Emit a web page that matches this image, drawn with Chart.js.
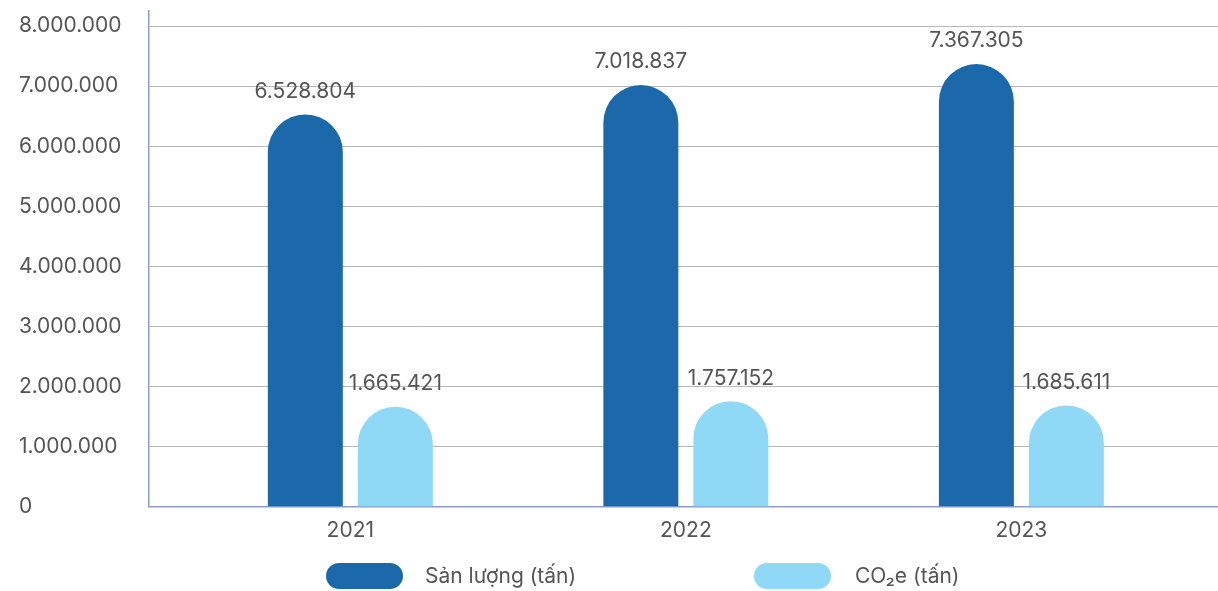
<!DOCTYPE html>
<html>
<head>
<meta charset="utf-8">
<script src="https://cdn.jsdelivr.net/npm/chart.js@4/dist/chart.umd.min.js"></script>
<style>
  body { margin: 0; background: #fff; }
  #wrap { position: relative; width: 1218px; height: 591px; }
  .pill { position: absolute; width: 77px; height: 26px; border-radius: 13px; }
  .lbl { position: absolute; font-family: Inter, sans-serif; font-size: 21px; color: #555; line-height: 26px; white-space: nowrap; }
</style>
</head>
<body>
<div id="wrap">
  <canvas id="chart" width="1218" height="591"></canvas>
  <div class="pill" style="left:326px; top:563px; background:#1b69ab;"></div>
  <div class="lbl" style="left:425px; top:563px;">Sản lượng (tấn)</div>
  <div class="pill" style="left:754px; top:563px; background:#8fd9f7;"></div>
  <div class="lbl" style="left:855px; top:563px;">CO₂e (tấn)</div>
</div>
<script>
let years = [2021, 2022, 2023];
let sanLuong = [6528804, 7018837, 7367305];
let co2e = [1665421, 1757152, 1685611];
let seriesNames = ["Sản lượng (tấn)", "CO₂e (tấn)"];
let yTicks = [0, 1000000, 2000000, 3000000, 4000000, 5000000, 6000000, 7000000, 8000000];

function fmt(n) {
  return String(Math.round(n)).replace(/\B(?=(\d{3})+(?!\d))/g, ".");
}

function toPoints(vals) {
  return years.map((y, i) => ({ x: y, y: vals[i] }));
}

// numbers above each bar
const valueLabels = {
  id: "valueLabels",
  afterDatasetsDraw(chart) {
    const ctx = chart.ctx;
    ctx.save();
    ctx.font = "21px Inter, sans-serif";
    ctx.fillStyle = "#555";
    ctx.textAlign = "center";
    ctx.textBaseline = "middle";
    chart.data.datasets.forEach((ds, di) => {
      chart.getDatasetMeta(di).data.forEach((el, i) => {
        ctx.fillText(fmt(ds.data[i].y), el.x, el.y - 23);
      });
    });
    ctx.restore();
  }
};

new Chart(document.getElementById("chart"), {
  type: "bar",
  data: {
    datasets: [
      {
        label: seriesNames[0],
        data: toPoints(sanLuong),
        backgroundColor: "#1b69ab",
        borderRadius: 40
      },
      {
        label: seriesNames[1],
        data: toPoints(co2e),
        backgroundColor: "#8fd9f7",
        borderRadius: 40
      }
    ]
  },
  options: {
    responsive: false,
    animation: false,
    categoryPercentage: 0.5365,
    barPercentage: 0.833,
    layout: { padding: { left: 19, top: 7, right: 0, bottom: 37 } },
    plugins: {
      legend: { display: false },
      tooltip: { enabled: false }
    },
    scales: {
      x: {
        type: "linear",
        offset: false,
        min: 2020.4,
        max: 2023.586,
        grid: { display: false, drawTicks: false },
        border: { color: "#8a9dd0", width: 1.5 },
        afterBuildTicks: s => { s.ticks = years.map(v => ({ value: v })); },
        ticks: {
          padding: 11,
          color: "#555",
          font: { family: "Inter", size: 21 },
          callback: v => String(v)
        }
      },
      y: {
        min: 0,
        max: 8250000,
        grid: { color: "#b8b8b8", drawTicks: false, lineWidth: 1 },
        border: { color: "#8a9dd0", width: 1.5 },
        afterFit: s => { s.width = 130; },
        afterBuildTicks: s => { s.ticks = yTicks.map(v => ({ value: v })); },
        ticks: {
          crossAlign: "far",
          padding: 10,
          color: "#555",
          font: { family: "Inter", size: 21, lineHeight: 0.1 },
          callback: v => fmt(v)
        }
      }
    }
  },
  plugins: [valueLabels]
});
</script>
</body>
</html>
